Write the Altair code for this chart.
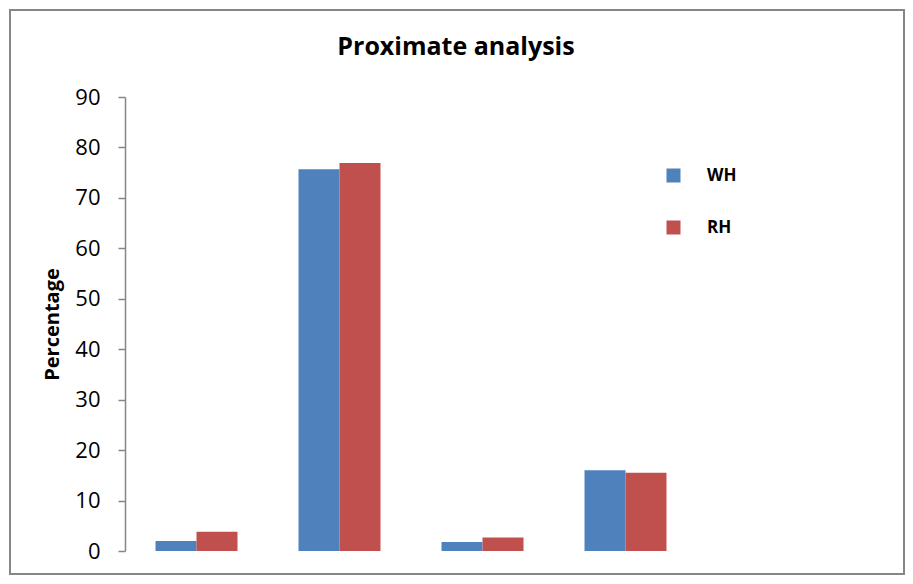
import altair as alt
import pandas as pd

categories = ["Moisture", "Volatile matter", "Ash", "Fixed carbon"]
series = ["WH", "RH"]
wh_values = [2.0, 75.7, 1.8, 16.0]
rh_values = [3.8, 76.9, 2.7, 15.5]
y_ticks = [0, 10, 20, 30, 40, 50, 60, 70, 80, 90]

rows = []
for c, w, r in zip(categories, wh_values, rh_values):
    rows.append({"category": c, "series": "WH", "value": w})
    rows.append({"category": c, "series": "RH", "value": r})
df = pd.DataFrame(rows)

FONT = "Open Sans"
W, H = 572, 454

bars = alt.Chart(df).mark_bar().encode(
    x=alt.X("category:N", sort=categories, axis=None,
            scale=alt.Scale(paddingInner=0.4266, paddingOuter=0.2133)),
    xOffset=alt.XOffset("series:N", sort=series,
                        scale=alt.Scale(paddingInner=0, paddingOuter=0)),
    y=alt.Y("value:Q",
            scale=alt.Scale(domain=[0, 90], nice=False),
            axis=alt.Axis(title="Percentage", values=y_ticks, grid=False,
                          domainColor="#868686", tickColor="#868686",
                          tickSize=7, domainWidth=1.5, tickWidth=1.5,
                          labelFont=FONT, labelFontSize=22, labelColor="black",
                          labelPadding=18,
                          titleFont=FONT, titleFontSize=20, titleFontWeight="bold",
                          titleColor="black", titlePadding=12)),
    color=alt.Color("series:N", sort=series,
                    scale=alt.Scale(domain=series, range=["#4F81BD", "#C0504D"]),
                    legend=alt.Legend(title=None, orient="none", legendX=540, legendY=70,
                                      symbolType="square", symbolSize=196,
                                      symbolStrokeWidth=0, labelFont=FONT,
                                      labelFontSize=17, labelFontWeight="bold",
                                      labelColor="black", labelOffset=25,
                                      rowPadding=34, padding=0)),
)

border = alt.Chart(pd.DataFrame({"k": [0]})).mark_rect(
    fill=None, stroke="#868686", strokeWidth=2
).encode(
    x=alt.value(-115), x2=alt.value(779), y=alt.value(-87), y2=alt.value(477)
)

chart = alt.layer(border, bars).properties(
    width=W, height=H,
    title=alt.TitleParams("Proximate analysis", font=FONT, fontSize=25,
                          fontWeight="bold", color="black", anchor="middle",
                          frame="group", dx=45, offset=0, dy=51),
    padding={"left": 117, "top": 89, "right": 208, "bottom": 25},
    autosize=alt.AutoSizeParams(type="none"),
).configure_view(stroke=None)

chart.save("out.html", embed_options={"renderer": "svg", "actions": False})
